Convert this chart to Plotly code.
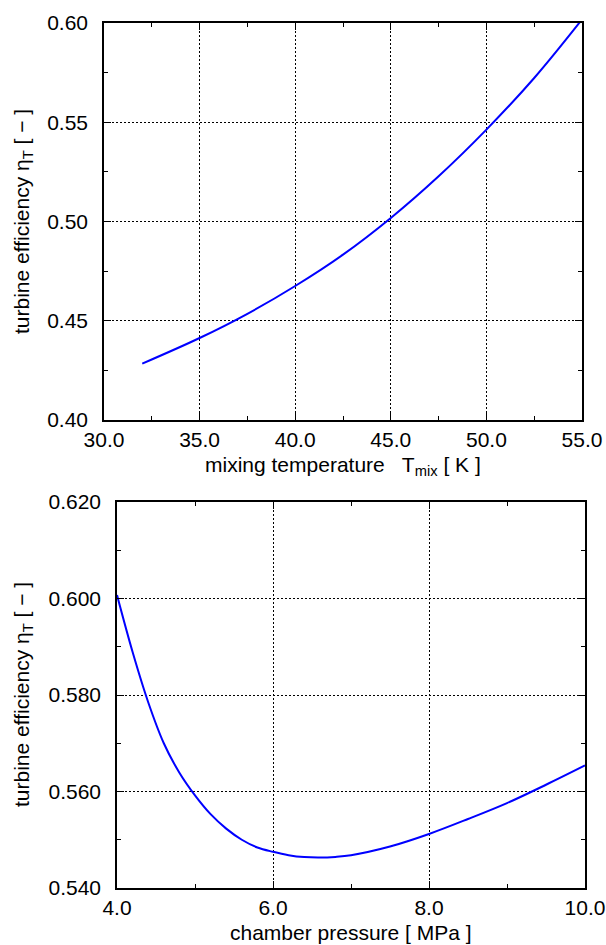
import plotly.graph_objects as go

# ---- data ----
t_mix = [32.0, 35.0, 37.5, 40.0, 42.5, 45.0, 47.5, 50.0, 52.5, 55.0]
eta_t_top = [0.4284, 0.4413, 0.4535, 0.4675, 0.4833, 0.5018, 0.5228, 0.5463, 0.5723, 0.6018]

p_ch = [4.0, 4.2, 4.4, 4.6, 4.8, 5.0, 5.2, 5.4, 5.6, 5.8, 6.0, 6.2, 6.4, 6.6, 6.8, 7.0,
        7.5, 8.0, 8.5, 9.0, 9.5, 10.0]
eta_t_bot = [0.6007, 0.5889, 0.5785, 0.5700, 0.5639, 0.5592, 0.5553, 0.5523, 0.5500,
             0.5484, 0.5475, 0.5468, 0.5464, 0.5463, 0.54645, 0.5468,
             0.5486, 0.5512, 0.5543, 0.5576, 0.5614, 0.5654]

top_xticks = [30.0, 35.0, 40.0, 45.0, 50.0, 55.0]
top_yticks = [0.40, 0.45, 0.50, 0.55, 0.60]
bot_xticks = [4.0, 6.0, 8.0, 10.0]
bot_yticks = [0.540, 0.560, 0.580, 0.600, 0.620]

FONT = "Liberation Sans, Arial, sans-serif"
W, H = 606, 945


def px_x(v):
    return v / W


def px_y(v):
    return 1 - v / H


fig = go.Figure()
fig.add_trace(go.Scatter(x=t_mix, y=eta_t_top, mode="lines",
                         line=dict(color="#0000ff", width=2, shape="spline", smoothing=1.0),
                         xaxis="x", yaxis="y", showlegend=False))
fig.add_trace(go.Scatter(x=p_ch, y=eta_t_bot, mode="lines",
                         line=dict(color="#0000ff", width=2, shape="spline", smoothing=1.0),
                         xaxis="x2", yaxis="y2", showlegend=False))


def ax(rng, ticks, fmt, minor_dtick, domain, anchor, is_y):
    return dict(
        range=rng, domain=domain, anchor=anchor,
        tickmode="array", tickvals=ticks, ticktext=[format(v, fmt) for v in ticks],
        ticks="inside", ticklen=7, tickwidth=1, tickcolor="black",
        showline=True, linecolor="black", linewidth=1.5, mirror="allticks",
        showgrid=True, gridcolor="black", gridwidth=1, griddash="2px,2px",
        zeroline=False,
        tickfont=dict(family=FONT, size=21, color="black"),
        minor=dict(dtick=minor_dtick, tick0=rng[0], ticks="inside", ticklen=4,
                   tickcolor="black", showgrid=False),
        ticklabelstandoff=10 if is_y else 0,
        automargin=False, fixedrange=True,
    )


fig.update_layout(
    width=W, height=H,
    margin=dict(l=0, r=0, t=0, b=0, pad=0),
    paper_bgcolor="white", plot_bgcolor="white",
    font=dict(family=FONT, size=21, color="black"),
    xaxis=ax([30, 55], top_xticks, ".1f", 2.5, [px_x(104), px_x(582)], "y", False),
    yaxis=ax([0.40, 0.60], top_yticks, ".2f", 0.025, [px_y(420), px_y(23)], "x", True),
    xaxis2=ax([4, 10], bot_xticks, ".1f", 1.0, [px_x(117), px_x(585)], "y2", False),
    yaxis2=ax([0.540, 0.620], bot_yticks, ".3f", 0.01, [px_y(888), px_y(502)], "x2", True),
    annotations=[
        dict(text="mixing temperature   T<sub>mix</sub> [ K ]", x=px_x(343), y=px_y(466),
             xref="paper", yref="paper", showarrow=False, xanchor="center", yanchor="middle",
             font=dict(family=FONT, size=21)),
        dict(text="turbine efficiency η<sub>T</sub> [ − ]", x=px_x(23), y=px_y(222),
             xref="paper", yref="paper", showarrow=False, xanchor="center", yanchor="middle",
             textangle=-90, font=dict(family=FONT, size=21)),
        dict(text="chamber pressure [ MPa ]", x=px_x(351), y=px_y(932),
             xref="paper", yref="paper", showarrow=False, xanchor="center", yanchor="middle",
             font=dict(family=FONT, size=21)),
        dict(text="turbine efficiency η<sub>T</sub> [ − ]", x=px_x(23), y=px_y(695),
             xref="paper", yref="paper", showarrow=False, xanchor="center", yanchor="middle",
             textangle=-90, font=dict(family=FONT, size=21)),
    ],
)

fig.write_html(
    "out.html",
    config={"displayModeBar": False},
    post_script="document.body.style.margin='0';document.body.style.overflow='hidden';",
)
